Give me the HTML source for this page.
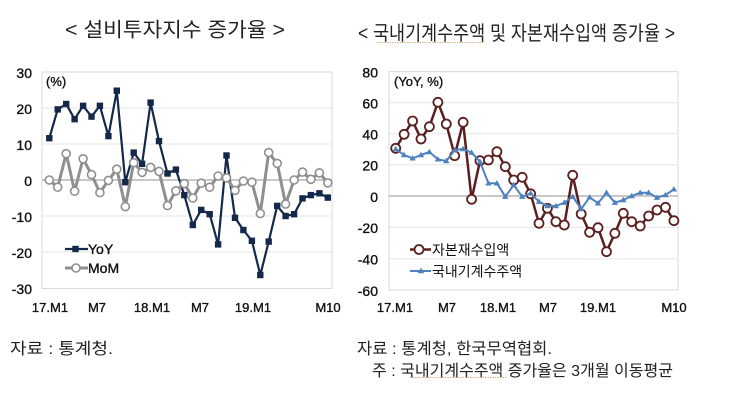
<!DOCTYPE html>
<html><head><meta charset="utf-8"><style>
html,body{margin:0;padding:0;background:#fff;width:750px;height:420px;overflow:hidden}
svg{display:block}
.lat{font-family:"Liberation Sans",sans-serif}
.kr{font-family:"Liberation Sans","Noto Sans CJK KR",sans-serif}
.hv{stroke:#111;stroke-width:0.35}
</style></head><body>
<svg width="750" height="420" viewBox="0 0 750 420" xmlns="http://www.w3.org/2000/svg">
<defs>
<rect id="sq" x="-3.2" y="-3.2" width="6.4" height="6.4" fill="#14284b"/>
<circle id="cg" r="4" fill="#fff" stroke="#8f8f8f" stroke-width="1.6"/>
<circle id="cm" r="4.5" fill="#fff" stroke="#5c1f1f" stroke-width="1.8"/>
<polygon id="tr" points="0,-3.2 3.2,2.2 -3.2,2.2" fill="#4f81bd"/>
</defs>
<rect width="750" height="420" fill="#fff"/>

<!-- Titles -->
<text class="kr" x="65" y="36.5" font-size="20" fill="#222" textLength="220" lengthAdjust="spacingAndGlyphs">&lt; 설비투자지수 증가율 &gt;</text>
<text class="kr" x="358" y="40" font-size="20" fill="#222" textLength="317" lengthAdjust="spacingAndGlyphs">&lt; 국내기계수주액 및 자본재수입액 증가율 &gt;</text>
<line x1="377" y1="42.5" x2="483" y2="42.5" stroke="#d4b483" stroke-width="1" stroke-dasharray="1.5,1"/>

<!-- LEFT CHART -->
<g stroke="#e6e6e6" stroke-width="1">
<line x1="42" y1="108" x2="332" y2="108"/>
<line x1="42" y1="144" x2="332" y2="144"/>
<line x1="42" y1="216" x2="332" y2="216"/>
<line x1="42" y1="252" x2="332" y2="252"/>
</g>
<rect x="42" y="72" width="290" height="216.5" fill="none" stroke="#d9d9d9" stroke-width="1"/>
<line x1="42" y1="180" x2="332" y2="180" stroke="#a6a6a6" stroke-width="1.2"/>
<g class="lat hv" font-size="14" fill="#111" text-anchor="end">
<text x="32" y="78">30</text>
<text x="32" y="114">20</text>
<text x="32" y="150">10</text>
<text x="32" y="186">0</text>
<text x="32" y="222">-10</text>
<text x="32" y="258">-20</text>
<text x="32" y="294">-30</text>
</g>
<text class="lat hv" x="46" y="86" font-size="13" fill="#111">(%)</text>
<g class="lat hv" font-size="13" fill="#111" text-anchor="middle">
<text x="50" y="312">17.M1</text>
<text x="97" y="312">M7</text>
<text x="152" y="312">18.M1</text>
<text x="200" y="312">M7</text>
<text x="253" y="312">19.M1</text>
<text x="328" y="312">M10</text>
</g>

<polyline fill="none" stroke="#14284b" stroke-width="2.2" stroke-linejoin="round" points="49.3,138.2 57.7,109.4 66.2,104.0 74.6,119.2 83.1,105.8 91.5,116.6 99.9,105.8 108.4,136.1 116.8,90.7 125.3,182.2 133.7,152.6 142.1,163.8 150.6,102.6 159.0,141.1 167.5,173.5 175.9,169.6 184.3,195.1 192.8,225 201.2,209.9 209.7,214.2 218.1,244.4 226.5,155.5 235.0,217.8 243.4,230.0 251.9,240.8 260.3,275.0 268.7,241.6 277.2,205.9 285.6,216 294.1,214.2 302.5,198.4 310.9,195.1 319.4,193.3 327.8,197.6"/>
<g>
<use href="#sq" x="49.3" y="138.2"/><use href="#sq" x="57.7" y="109.4"/><use href="#sq" x="66.2" y="104.0"/><use href="#sq" x="74.6" y="119.2"/><use href="#sq" x="83.1" y="105.8"/><use href="#sq" x="91.5" y="116.6"/><use href="#sq" x="99.9" y="105.8"/><use href="#sq" x="108.4" y="136.1"/><use href="#sq" x="116.8" y="90.7"/><use href="#sq" x="125.3" y="182.2"/><use href="#sq" x="133.7" y="152.6"/><use href="#sq" x="142.1" y="163.8"/><use href="#sq" x="150.6" y="102.6"/><use href="#sq" x="159.0" y="141.1"/><use href="#sq" x="167.5" y="173.5"/><use href="#sq" x="175.9" y="169.6"/><use href="#sq" x="184.3" y="195.1"/><use href="#sq" x="192.8" y="225"/><use href="#sq" x="201.2" y="209.9"/><use href="#sq" x="209.7" y="214.2"/><use href="#sq" x="218.1" y="244.4"/><use href="#sq" x="226.5" y="155.5"/><use href="#sq" x="235.0" y="217.8"/><use href="#sq" x="243.4" y="230.0"/><use href="#sq" x="251.9" y="240.8"/><use href="#sq" x="260.3" y="275.0"/><use href="#sq" x="268.7" y="241.6"/><use href="#sq" x="277.2" y="205.9"/><use href="#sq" x="285.6" y="216"/><use href="#sq" x="294.1" y="214.2"/><use href="#sq" x="302.5" y="198.4"/><use href="#sq" x="310.9" y="195.1"/><use href="#sq" x="319.4" y="193.3"/><use href="#sq" x="327.8" y="197.6"/>
</g>

<polyline fill="none" stroke="#8f8f8f" stroke-width="3" stroke-linejoin="round" points="49.3,180 57.7,187.2 66.2,153.7 74.6,191.2 83.1,158.8 91.5,174.6 99.9,192.6 108.4,180.4 116.8,169.2 125.3,206.6 133.7,162.7 142.1,172.4 150.6,167.4 159.0,171.4 167.5,205.6 175.9,190.8 184.3,183.6 192.8,198 201.2,183.2 209.7,187.2 218.1,176.0 226.5,177.8 235.0,190.4 243.4,181.1 251.9,182.2 260.3,213.5 268.7,152.6 277.2,163.4 285.6,204.1 294.1,180 302.5,172.1 310.9,179.3 319.4,172.8 327.8,182.9"/>
<g>
<use href="#cg" x="49.3" y="180"/><use href="#cg" x="57.7" y="187.2"/><use href="#cg" x="66.2" y="153.7"/><use href="#cg" x="74.6" y="191.2"/><use href="#cg" x="83.1" y="158.8"/><use href="#cg" x="91.5" y="174.6"/><use href="#cg" x="99.9" y="192.6"/><use href="#cg" x="108.4" y="180.4"/><use href="#cg" x="116.8" y="169.2"/><use href="#cg" x="125.3" y="206.6"/><use href="#cg" x="133.7" y="162.7"/><use href="#cg" x="142.1" y="172.4"/><use href="#cg" x="150.6" y="167.4"/><use href="#cg" x="159.0" y="171.4"/><use href="#cg" x="167.5" y="205.6"/><use href="#cg" x="175.9" y="190.8"/><use href="#cg" x="184.3" y="183.6"/><use href="#cg" x="192.8" y="198"/><use href="#cg" x="201.2" y="183.2"/><use href="#cg" x="209.7" y="187.2"/><use href="#cg" x="218.1" y="176.0"/><use href="#cg" x="226.5" y="177.8"/><use href="#cg" x="235.0" y="190.4"/><use href="#cg" x="243.4" y="181.1"/><use href="#cg" x="251.9" y="182.2"/><use href="#cg" x="260.3" y="213.5"/><use href="#cg" x="268.7" y="152.6"/><use href="#cg" x="277.2" y="163.4"/><use href="#cg" x="285.6" y="204.1"/><use href="#cg" x="294.1" y="180"/><use href="#cg" x="302.5" y="172.1"/><use href="#cg" x="310.9" y="179.3"/><use href="#cg" x="319.4" y="172.8"/><use href="#cg" x="327.8" y="182.9"/>
</g>

<!-- left legend -->
<line x1="65" y1="249" x2="88" y2="249" stroke="#14284b" stroke-width="2.2"/>
<use href="#sq" x="75.5" y="249"/>
<text class="lat hv" x="88" y="254" font-size="14" fill="#111">YoY</text>
<line x1="65" y1="268" x2="88" y2="268" stroke="#8f8f8f" stroke-width="3"/>
<use href="#cg" x="76" y="268"/>
<text class="lat hv" x="88" y="273" font-size="14" fill="#111">MoM</text>

<!-- RIGHT CHART -->
<g stroke="#e6e6e6" stroke-width="1">
<line x1="389" y1="102.7" x2="678" y2="102.7"/>
<line x1="389" y1="133.7" x2="678" y2="133.7"/>
<line x1="389" y1="164.7" x2="678" y2="164.7"/>
<line x1="389" y1="227.3" x2="678" y2="227.3"/>
<line x1="389" y1="258.7" x2="678" y2="258.7"/>
</g>
<rect x="389" y="71.7" width="289" height="218.3" fill="none" stroke="#d9d9d9" stroke-width="1"/>
<line x1="389" y1="196" x2="678" y2="196" stroke="#a6a6a6" stroke-width="1.2"/>
<g class="lat hv" font-size="14" fill="#111" text-anchor="end">
<text x="378" y="77.5">80</text>
<text x="378" y="108.5">60</text>
<text x="378" y="139.5">40</text>
<text x="378" y="170.5">20</text>
<text x="378" y="202">0</text>
<text x="378" y="233">-20</text>
<text x="378" y="264.5">-40</text>
<text x="378" y="296">-60</text>
</g>
<text class="lat hv" x="394" y="86" font-size="13" fill="#111">(YoY, %)</text>
<g class="lat hv" font-size="13" fill="#111" text-anchor="middle">
<text x="395" y="312">17.M1</text>
<text x="447" y="312">M7</text>
<text x="498" y="312">18.M1</text>
<text x="548" y="312">M7</text>
<text x="598" y="312">19.M1</text>
<text x="674" y="312">M10</text>
</g>

<polyline fill="none" stroke="#5c1f1f" stroke-width="2.5" stroke-linejoin="round" points="395.7,148.3 404.1,134.3 412.6,121 421.0,139 429.4,126.7 437.9,102.3 446.3,124 454.7,155.7 463.1,122.3 471.6,199.3 480.0,160.7 488.4,160 496.9,151.7 505.3,166.7 513.7,180 522.2,177.3 530.6,193.8 539.0,223.3 547.4,208.3 555.9,221.7 564.3,225 572.7,175.3 581.2,214 589.6,232.3 598.0,227.7 606.5,251.7 614.9,233.3 623.3,213.3 631.7,221.7 640.2,226 648.6,216 657.0,210 665.5,207.3 673.9,220.7"/>
<g>
<use href="#cm" x="395.7" y="148.3"/><use href="#cm" x="404.1" y="134.3"/><use href="#cm" x="412.6" y="121"/><use href="#cm" x="421.0" y="139"/><use href="#cm" x="429.4" y="126.7"/><use href="#cm" x="437.9" y="102.3"/><use href="#cm" x="446.3" y="124"/><use href="#cm" x="454.7" y="155.7"/><use href="#cm" x="463.1" y="122.3"/><use href="#cm" x="471.6" y="199.3"/><use href="#cm" x="480.0" y="160.7"/><use href="#cm" x="488.4" y="160"/><use href="#cm" x="496.9" y="151.7"/><use href="#cm" x="505.3" y="166.7"/><use href="#cm" x="513.7" y="180"/><use href="#cm" x="522.2" y="177.3"/><use href="#cm" x="530.6" y="193.8"/><use href="#cm" x="539.0" y="223.3"/><use href="#cm" x="547.4" y="208.3"/><use href="#cm" x="555.9" y="221.7"/><use href="#cm" x="564.3" y="225"/><use href="#cm" x="572.7" y="175.3"/><use href="#cm" x="581.2" y="214"/><use href="#cm" x="589.6" y="232.3"/><use href="#cm" x="598.0" y="227.7"/><use href="#cm" x="606.5" y="251.7"/><use href="#cm" x="614.9" y="233.3"/><use href="#cm" x="623.3" y="213.3"/><use href="#cm" x="631.7" y="221.7"/><use href="#cm" x="640.2" y="226"/><use href="#cm" x="648.6" y="216"/><use href="#cm" x="657.0" y="210"/><use href="#cm" x="665.5" y="207.3"/><use href="#cm" x="673.9" y="220.7"/>
</g>

<polyline fill="none" stroke="#4f81bd" stroke-width="2" stroke-linejoin="round" points="395.7,149 404.1,155 412.6,158.3 421.0,155 429.4,152 437.9,159.3 446.3,161 454.7,150 463.1,149 471.6,152.7 480.0,161.7 488.4,183.3 496.9,183.3 505.3,196.7 513.7,185 522.2,196.7 530.6,193.3 539.0,201.7 547.4,206 555.9,206 564.3,202.7 572.7,196.7 581.2,209 589.6,197.3 598.0,203.3 606.5,192.7 614.9,202.7 623.3,200 631.7,196 640.2,192.7 648.6,192.7 657.0,197.7 665.5,195 673.9,189.3"/>
<g>
<use href="#tr" x="395.7" y="149"/><use href="#tr" x="404.1" y="155"/><use href="#tr" x="412.6" y="158.3"/><use href="#tr" x="421.0" y="155"/><use href="#tr" x="429.4" y="152"/><use href="#tr" x="437.9" y="159.3"/><use href="#tr" x="446.3" y="161"/><use href="#tr" x="454.7" y="150"/><use href="#tr" x="463.1" y="149"/><use href="#tr" x="471.6" y="152.7"/><use href="#tr" x="480.0" y="161.7"/><use href="#tr" x="488.4" y="183.3"/><use href="#tr" x="496.9" y="183.3"/><use href="#tr" x="505.3" y="196.7"/><use href="#tr" x="513.7" y="185"/><use href="#tr" x="522.2" y="196.7"/><use href="#tr" x="530.6" y="193.3"/><use href="#tr" x="539.0" y="201.7"/><use href="#tr" x="547.4" y="206"/><use href="#tr" x="555.9" y="206"/><use href="#tr" x="564.3" y="202.7"/><use href="#tr" x="572.7" y="196.7"/><use href="#tr" x="581.2" y="209"/><use href="#tr" x="589.6" y="197.3"/><use href="#tr" x="598.0" y="203.3"/><use href="#tr" x="606.5" y="192.7"/><use href="#tr" x="614.9" y="202.7"/><use href="#tr" x="623.3" y="200"/><use href="#tr" x="631.7" y="196"/><use href="#tr" x="640.2" y="192.7"/><use href="#tr" x="648.6" y="192.7"/><use href="#tr" x="657.0" y="197.7"/><use href="#tr" x="665.5" y="195"/><use href="#tr" x="673.9" y="189.3"/>
</g>

<!-- right legend -->
<line x1="410" y1="249.5" x2="431" y2="249.5" stroke="#5c1f1f" stroke-width="2.5"/>
<use href="#cm" x="419" y="249.5"/>
<text class="kr" x="432" y="255" font-size="14" fill="#111">자본재수입액</text>
<line x1="410" y1="271" x2="431" y2="271" stroke="#4f81bd" stroke-width="2"/>
<use href="#tr" x="421" y="271"/>
<text class="kr" x="432" y="276.5" font-size="14" fill="#111">국내기계수주액</text>

<!-- Footers -->
<text class="kr" x="10" y="354" font-size="16" fill="#222" textLength="103" lengthAdjust="spacingAndGlyphs">자료 : 통계청.</text>
<text class="kr" x="357" y="354" font-size="16" fill="#222" textLength="195" lengthAdjust="spacingAndGlyphs">자료 : 통계청, 한국무역협회.</text>
<text class="kr" x="372" y="376" font-size="16" fill="#222" textLength="301" lengthAdjust="spacingAndGlyphs">주 : 국내기계수주액 증가율은 3개월 이동평균</text>
<line x1="410" y1="377.5" x2="507" y2="377.5" stroke="#d4b483" stroke-width="1" stroke-dasharray="1.5,1"/>
</svg>
</body></html>
